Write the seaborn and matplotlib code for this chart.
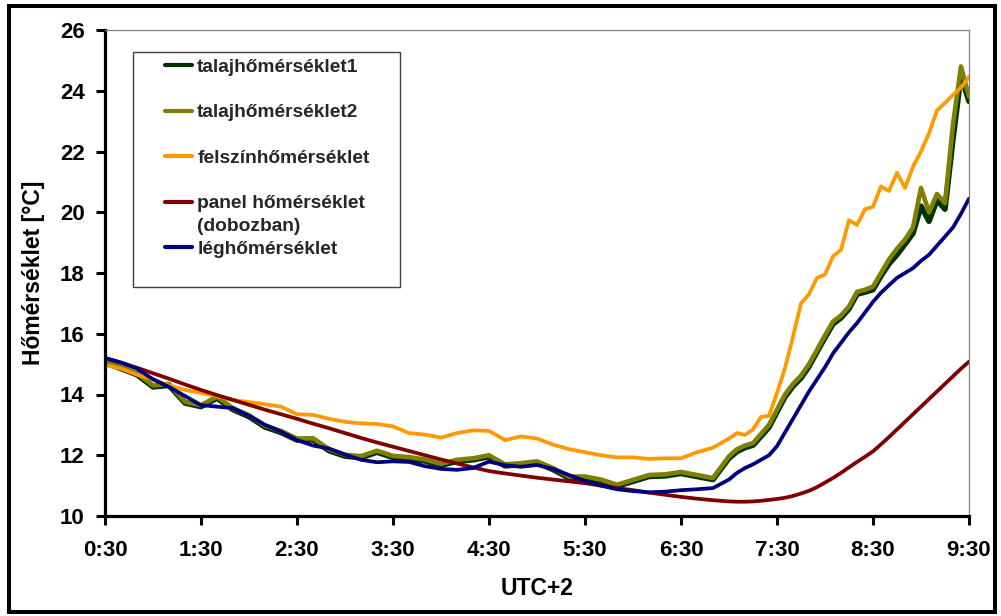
import numpy as np
import pandas as pd
import matplotlib
matplotlib.use("Agg")
import matplotlib.pyplot as plt
import seaborn as sns
from matplotlib.lines import Line2D
from matplotlib.patches import Rectangle
from matplotlib.legend_handler import HandlerLine2D

# ---------------- data ----------------
time_labels = [
    "0:30", "0:40", "0:50", "1:00", "1:10", "1:20", "1:30", "1:40", "1:50", "2:00",
    "2:10", "2:20", "2:30", "2:40", "2:50", "3:00", "3:10", "3:20", "3:30", "3:40",
    "3:50", "4:00", "4:10", "4:20", "4:30", "4:40", "4:50", "5:00", "5:10", "5:20",
    "5:30", "5:40", "5:50", "6:00", "6:10", "6:20", "6:30", "6:40", "6:50",
    "7:00", "7:05", "7:10", "7:15", "7:20", "7:25", "7:30", "7:35", "7:40", "7:45",
    "7:50", "7:55", "8:00", "8:05", "8:10", "8:15", "8:20", "8:25", "8:30", "8:35",
    "8:40", "8:45", "8:50", "8:55", "9:00", "9:05", "9:10", "9:15", "9:20", "9:25",
    "9:30",
]

talaj1 = [
    15.05, 14.85, 14.65, 14.25, 14.30, 13.72, 13.60, 13.88, 13.50, 13.27,
    12.93, 12.75, 12.50, 12.51, 12.15, 11.97, 11.92, 12.10, 11.93, 11.89,
    11.81, 11.67, 11.80, 11.85, 11.95, 11.65, 11.69, 11.75, 11.53, 11.25,
    11.25, 11.15, 10.98, 11.14, 11.30, 11.32, 11.40, 11.30, 11.20,
    11.90, 12.12, 12.25, 12.33, 12.62, 12.92, 13.42, 13.92, 14.27, 14.54,
    14.92, 15.40, 15.87, 16.32, 16.52, 16.82, 17.30, 17.37, 17.45, 17.90,
    18.30, 18.60, 18.95, 19.30, 20.20, 19.70, 20.40, 20.10, 22.40, 24.50,
    23.65,
]

talaj2 = [
    15.10, 14.90, 14.70, 14.30, 14.35, 13.76, 13.65, 13.93, 13.55, 13.32,
    12.98, 12.80, 12.55, 12.56, 12.20, 12.02, 11.97, 12.15, 11.98, 11.94,
    11.86, 11.72, 11.85, 11.90, 12.00, 11.70, 11.74, 11.80, 11.58, 11.30,
    11.30, 11.20, 11.03, 11.19, 11.35, 11.37, 11.45, 11.35, 11.25,
    11.97, 12.20, 12.32, 12.40, 12.70, 13.00, 13.50, 14.00, 14.35, 14.62,
    15.00, 15.47, 15.95, 16.40, 16.60, 16.90, 17.38, 17.45, 17.55, 18.00,
    18.45, 18.80, 19.10, 19.50, 20.80, 20.00, 20.60, 20.30, 22.90, 24.80,
    23.80,
]

felszin = [
    14.97, 14.85, 14.65, 14.50, 14.30, 14.15, 14.05, 13.95, 13.82, 13.75,
    13.68, 13.60, 13.35, 13.33, 13.20, 13.10, 13.05, 13.03, 12.95, 12.73,
    12.68, 12.58, 12.73, 12.82, 12.80, 12.50, 12.62, 12.55, 12.35, 12.20,
    12.10, 12.00, 11.93, 11.93, 11.88, 11.90, 11.90, 12.10, 12.25,
    12.55, 12.73, 12.67, 12.85, 13.26, 13.30, 14.05, 14.87, 15.90, 17.00,
    17.30, 17.84, 17.95, 18.55, 18.76, 19.74, 19.58, 20.10, 20.18, 20.85,
    20.70, 21.30, 20.80, 21.50, 22.00, 22.60, 23.35, 23.60, 23.86, 24.10,
    24.46,
]

panel = [
    15.20, 15.05, 14.88, 14.70, 14.52, 14.33, 14.15, 13.98, 13.82, 13.66,
    13.50, 13.35, 13.20, 13.04, 12.89, 12.73, 12.57, 12.42, 12.28, 12.14,
    12.00, 11.86, 11.73, 11.60, 11.48, 11.40, 11.33, 11.26, 11.20, 11.14,
    11.08, 11.00, 10.92, 10.85, 10.77, 10.70, 10.63, 10.57, 10.52,
    10.48, 10.47, 10.47, 10.48, 10.50, 10.53, 10.56, 10.60, 10.66, 10.74,
    10.83, 10.95, 11.10, 11.25, 11.42, 11.60, 11.78, 11.95, 12.13, 12.36,
    12.60, 12.85, 13.10, 13.35, 13.60, 13.85, 14.10, 14.35, 14.60, 14.85,
    15.08,
]

leg = [
    15.20, 15.05, 14.85, 14.50, 14.25, 13.95, 13.65, 13.60, 13.55, 13.30,
    13.00, 12.78, 12.50, 12.32, 12.22, 12.02, 11.85, 11.77, 11.80, 11.78,
    11.64, 11.55, 11.52, 11.58, 11.79, 11.67, 11.62, 11.68, 11.55, 11.35,
    11.15, 11.00, 10.88, 10.82, 10.78, 10.80, 10.85, 10.88, 10.92,
    11.20, 11.42, 11.58, 11.70, 11.85, 12.00, 12.30, 12.75, 13.20, 13.65,
    14.10, 14.50, 14.90, 15.35, 15.70, 16.05, 16.35, 16.70, 17.05, 17.35,
    17.60, 17.84, 18.00, 18.16, 18.40, 18.60, 18.90, 19.20, 19.50, 19.95,
    20.45,
]

series_names = ["talajhőmérséklet1", "talajhőmérséklet2", "felszínhőmérséklet",
                "panel hőmérséklet\n(dobozban)", "léghőmérséklet"]
x_tick_labels = ["0:30", "1:30", "2:30", "3:30", "4:30", "5:30", "6:30", "7:30", "8:30", "9:30"]
y_ticks = [10, 12, 14, 16, 18, 20, 22, 24, 26]

# ---------------- style ----------------
sns.set_theme(style="ticks")
plt.rcParams["font.family"] = ["Liberation Sans", "DejaVu Sans"]
plt.rcParams["font.weight"] = "bold"

def to_hours(s):
    h, m = s.split(":")
    return int(h) + int(m) / 60.0

hours = [to_hours(t) for t in time_labels]
df = pd.DataFrame({"t": hours, "talaj1": talaj1, "talaj2": talaj2,
                   "felszin": felszin, "panel": panel, "leg": leg})

colors = ["#003300", "#808000", "#FF9900", "#800000", "#000080"]
widths = [4.0, 3.3, 2.7, 2.7, 2.7]
cols = ["talaj1", "talaj2", "felszin", "panel", "leg"]

fig = plt.figure(figsize=(10.01, 6.16), dpi=100)
ax = fig.add_axes([105 / 1001, 1 - 516 / 616, 864 / 1001, 486 / 616])

for c, col, lw in zip(cols, colors, widths):
    sns.lineplot(data=df, x="t", y=c, color=col, linewidth=lw, ax=ax, legend=False)

ax.set_xlim(0.5, 9.5)
ax.set_ylim(10, 26)
ax.set_xticks([to_hours(s) for s in x_tick_labels])
ax.set_xticklabels(x_tick_labels)
ax.set_yticks(y_ticks)
ax.set_yticklabels([str(v) for v in y_ticks])

for lab in ax.get_xticklabels() + ax.get_yticklabels():
    lab.set_fontweight("bold")
    lab.set_fontsize(16)

ax.tick_params(axis="both", direction="out", length=6.5, width=2.2, color="black",
               labelcolor="black", left=True, bottom=True)
ax.tick_params(axis="x", pad=11)
ax.tick_params(axis="y", pad=8)

for s in ["left", "bottom"]:
    ax.spines[s].set_linewidth(2.3)
    ax.spines[s].set_color("black")
for s in ["top", "right"]:
    ax.spines[s].set_linewidth(0.9)
    ax.spines[s].set_color("#808080")

ax.set_xlabel("UTC+2", fontsize=16.5, fontweight="bold", color="black", labelpad=11)
ax.set_ylabel("Hőmérséklet [°C]", fontsize=16.5, fontweight="bold", color="black", labelpad=11)

# ---------------- legend ----------------
blank = Line2D([], [], color="none")
hs = [Line2D([], [], color=c, linewidth=3.0) for c in colors]
handles = [hs[0], blank, hs[1], blank, hs[2], blank, hs[3], blank, hs[4], blank]
labels = [series_names[0], " ", series_names[1], " ", series_names[2], " ",
          series_names[3].split("\n")[0], series_names[3].split("\n")[1],
          series_names[4], " "]
leg_obj = ax.legend(handles, labels, loc="upper left",
                    bbox_to_anchor=(28 / 864, 0.3, 267 / 864, (516 - 52) / 486 - 0.3),
                    mode="expand", borderaxespad=0,
                    prop={"weight": "bold", "size": 13.8},
                    labelspacing=0.28, borderpad=0.33, handlelength=2.75,
                    handletextpad=0.27, frameon=True, fancybox=False,
                    framealpha=1, edgecolor="#404040",
                    handler_map={Line2D: HandlerLine2D(xpad=1.35)})
leg_obj.get_frame().set_linewidth(1.0)

# figure border
fig.add_artist(Rectangle((9.2 / 1001, 4 / 616), (994.5 - 9.2) / 1001, (610 - 4) / 616,
                         transform=fig.transFigure, fill=False, edgecolor="black",
                         linewidth=2.9))

fig.savefig("out.png", dpi=100)
